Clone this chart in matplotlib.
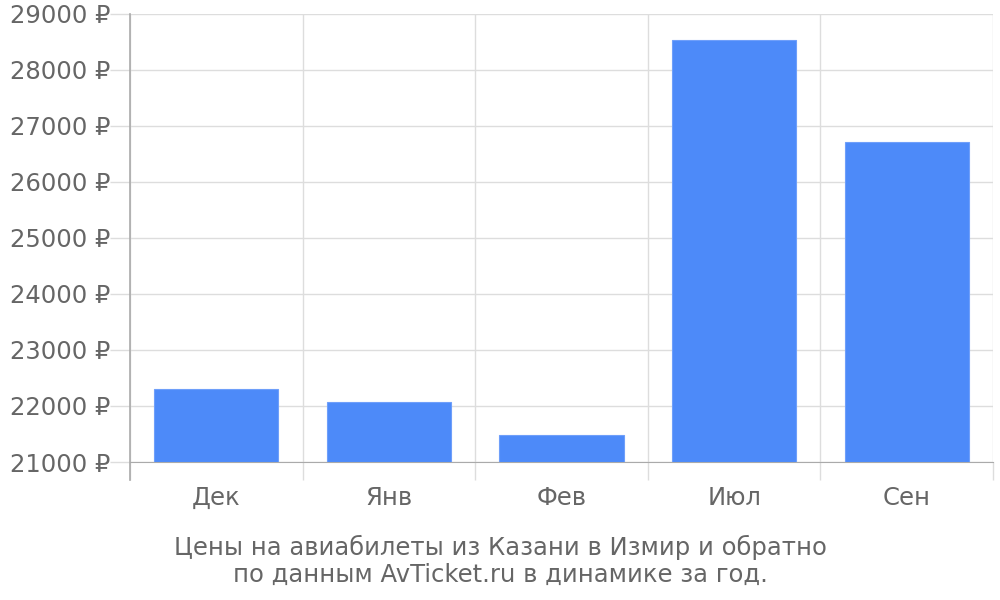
import numpy as np
import matplotlib.pyplot as plt
from matplotlib.ticker import FixedLocator

months = ["Дек", "Янв", "Фев", "Июл", "Сен"]
prices = [22300, 22070, 21490, 28530, 26720]
y_ticks = list(range(21000, 29001, 1000))
title_lines = ["Цены на авиабилеты из Казани в Измир и обратно",
               "по данным AvTicket.ru в динамике за год."]

text_col = "#666666"
grid_col = "#dddddd"
axis_col = "#aaaaaa"
bar_col = "#4d8af9"

fig = plt.figure(figsize=(10, 6), dpi=100)
ax = fig.add_axes([0.13, 0.23, 0.863, 0.7467])

x = np.arange(len(months))
ax.bar(x, np.array(prices) - 21000, bottom=21000, width=0.72,
       color=bar_col, edgecolor="#6f9ffa", linewidth=0.8, zorder=3)

ax.set_xlim(-0.5, len(months) - 0.5)
ax.set_ylim(21000, 29000)

ax.set_xticks(x)
ax.set_xticklabels(months)
ax.xaxis.set_minor_locator(FixedLocator(np.arange(-0.5, len(months), 1.0)))
ax.tick_params(axis="x", which="major", length=0, pad=17,
               labelsize=17.5, labelcolor=text_col)
ax.tick_params(axis="x", which="minor", length=13, color=grid_col, width=1)

ax.set_yticks(y_ticks)
ax.set_yticklabels([f"{v} ₽" for v in y_ticks])
ax.tick_params(axis="y", length=14.4, color=grid_col, width=1, pad=0,
               labelsize=17.5, labelcolor=text_col)

ax.grid(True, which="minor", axis="x", color=grid_col, lw=1, zorder=0)
ax.grid(True, which="major", axis="y", color=grid_col, lw=1, zorder=0)

for side in ["top", "right"]:
    ax.spines[side].set_visible(False)
ax.spines["left"].set_visible(False)
ax.spines["bottom"].set_color(axis_col)

# left axis line runs a bit below the x axis like the tick marks
ax.plot([-0.5, -0.5], [-0.04, 1], transform=ax.get_xaxis_transform(),
        color=axis_col, lw=1.2, clip_on=False, zorder=4)

fig.text(0.5, 0.065, "\n".join(title_lines), ha="center", va="center",
         fontsize=17.5, color=text_col, linespacing=1.15)

fig.savefig("out.png", dpi=100)
plt.close(fig)
